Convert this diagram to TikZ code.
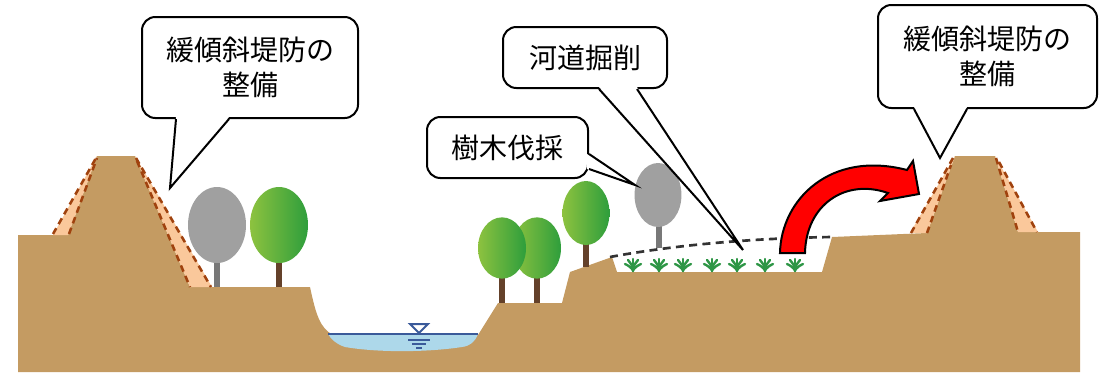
\documentclass[tikz,border=0pt]{standalone}
\usepackage{fontspec}
\newfontfamily\jpfont{Noto Sans CJK JP}
\usetikzlibrary{calc}
\definecolor{earth}{HTML}{C49B62}
\definecolor{peach}{HTML}{FAC89B}
\definecolor{levee}{HTML}{A0420E}
\definecolor{leafL}{HTML}{8DC23F}
\definecolor{leafR}{HTML}{2E9E3C}
\definecolor{deadcrown}{HTML}{A0A0A0}
\definecolor{deadtrunk}{HTML}{787878}
\definecolor{trunk}{HTML}{64412A}
\definecolor{water}{HTML}{ADD8EA}
\definecolor{waterline}{HTML}{3A5A9A}
\definecolor{grass}{HTML}{2E9646}
\begin{document}
\begin{tikzpicture}[x=0.75pt,y=-0.75pt,
  bubble/.style={draw=black, fill=white, line width=1.5pt, rounded corners=10pt,
    inner sep=0pt, align=center, font={\jpfont\fontsize{21pt}{26pt}\selectfont}},
  tailline/.style={draw=black, line width=1.5pt, line join=miter},
  slopeline/.style={draw=levee, line width=1.9pt, dash pattern=on 5pt off 3.5pt},
  greencrown/.style={left color=leafL, right color=leafR},
  graycrown/.style={fill=deadcrown},
  livetrunk/.style={draw=trunk, line width=4pt},
  deadstem/.style={draw=deadtrunk, line width=4pt},
  tuftleaf/.style={draw=grass, line width=1.8pt, line cap=round},
  cutline/.style={draw=black!80, line width=2pt, dash pattern=on 6pt off 4pt}]
\useasboundingbox (0,0) rectangle (1099,372);

% ground cross-section
\fill[earth] (18,372) -- (18,235) -- (68,235) -- (97,156) -- (135,156) -- (190,287)
  -- (310,287) .. controls (316,315) and (320,328) .. (333,335)
  -- (478,335) -- (498,303) -- (562,303) -- (570,272) -- (612,257) -- (617,272)
  -- (822,272) -- (832,237) -- (927,233) -- (955,156) -- (995,156) -- (1018,232)
  -- (1080,232) -- (1080,372) -- cycle;

% gentle-slope levee widening
\fill[peach] (53,235) -- (97,156) -- (68,235) -- cycle;
\fill[peach] (135,156) -- (212,287) -- (190,287) -- cycle;
\fill[peach] (910,233) -- (955,156) -- (927,233) -- cycle;
\fill[peach] (995,156) -- (1038,232) -- (1018,232) -- cycle;
\draw[slopeline] (53,234) -- (96,158);
\draw[slopeline] (69,234) -- (97,158);
\draw[slopeline] (136,158) -- (211,287);
\draw[slopeline] (137,161) -- (190,287);
\draw[slopeline] (911,233) -- (953,158);
\draw[slopeline] (927,233) -- (951,165);
\draw[slopeline] (996,158) -- (1018,232);
\draw[slopeline] (999,162) -- (1037,232);

% river water
\fill[water] (328,334) -- (478,334) .. controls (475,342) and (470,346) .. (462,347)
  .. controls (430,352) and (380,353) .. (345,347) .. controls (336,344) and (331,339) .. (328,334) -- cycle;
\draw[waterline, line width=1.5pt] (328,334) -- (478,334);
\draw[waterline, line width=1.5pt, fill=white] (410,324) -- (428,324) -- (419,333) -- cycle;
\draw[waterline, line width=1.5pt] (408,339.5) -- (430,339.5);
\draw[waterline, line width=1.5pt] (412,343.5) -- (426,343.5);
\draw[waterline, line width=1.5pt] (416,347.5) -- (422,347.5);

% trees on the left bank
\draw[deadstem] (217,260) -- (217,287);
\fill[graycrown] (217,225) ellipse [x radius=21.75pt, y radius=28.5pt];
\draw[livetrunk] (279,260) -- (279,287);
\shade[greencrown] (279,225) ellipse [x radius=21.75pt, y radius=28.5pt];

% trees on the right bank
\draw[livetrunk] (537,275) -- (537,303);
\shade[greencrown] (537,248) ellipse [x radius=18pt, y radius=23pt];
\draw[livetrunk] (502,275) -- (502,303);
\shade[greencrown] (502,248) ellipse [x radius=18pt, y radius=23pt];
\draw[livetrunk] (586,240) -- (586,267);
\shade[greencrown] (586,213) ellipse [x radius=17.6pt, y radius=24pt];
\draw[deadstem] (659,222) -- (659,248);
\fill[graycrown] (658,195) ellipse [x radius=17.6pt, y radius=24pt];

% grass on the excavated floodplain
\foreach \gx in {633,659,683,712,737,765,795} {
  \draw[tuftleaf] (\gx,271) -- (\gx,259);
  \draw[tuftleaf] (\gx,271) .. controls (\gx-1,265) .. (\gx-5,260);
  \draw[tuftleaf] (\gx,271) .. controls (\gx+1,265) .. (\gx+5,260);
  \draw[tuftleaf] (\gx,270) .. controls (\gx-4,266) .. (\gx-8,264);
  \draw[tuftleaf] (\gx,270) .. controls (\gx+4,266) .. (\gx+8,264);
}

% former ground line of the excavated area
\draw[cutline] (610,257) .. controls (680,244) and (760,238) .. (833,237);

% soil moved to the levee
\filldraw[fill=red, draw=black, line width=1.5pt, line join=miter]
  (780,253) .. controls (781,200) and (830,150) .. (907,170) -- (913,161) -- (919,194)
  -- (880,201) -- (888,193) .. controls (845,178) and (806,205) .. (805,253) -- cycle;

% callouts
\node[bubble, minimum width=162pt, minimum height=75.75pt] (levL) at (250,67.5)
  {緩傾斜堤防の\\整備};
\node[bubble, minimum width=164.25pt, minimum height=77.25pt] (levR) at (987.5,56.5)
  {緩傾斜堤防の\\整備};
\node[bubble, minimum width=123pt, minimum height=45.75pt] (dig) at (585,57.5)
  {河道掘削};
\node[bubble, minimum width=120.75pt, minimum height=45.75pt] (cut) at (507.5,147.5)
  {樹木伐採};

\coordinate (levLtip) at (170,188);
\coordinate (levRtip) at (940,158);
\coordinate (digtip) at (743,250);
\coordinate (cuttip) at (635,185);

\fill[white] ($(levL.south west)+(35,-2)$) -- (levLtip) -- ($(levL.south west)+(88,-2)$) -- cycle;
\draw[tailline] ($(levL.south west)+(35,0)$) -- (levLtip) -- ($(levL.south west)+(88,0)$);

\fill[white] ($(levR.south west)+(37,-2)$) -- (levRtip) -- ($(levR.south west)+(90,-2)$) -- cycle;
\draw[tailline] ($(levR.south west)+(37,0)$) -- (levRtip) -- ($(levR.south west)+(90,0)$);

\fill[white] ($(dig.south west)+(97,-2)$) -- (digtip) -- ($(dig.south west)+(135,-2)$) -- cycle;
\draw[tailline] ($(dig.south west)+(97,0)$) -- (digtip) -- ($(dig.south west)+(135,0)$);

\fill[white] ($(cut.south east)+(-2,-25)$) -- (cuttip) -- ($(cut.south east)+(-2,-10)$) -- cycle;
\draw[tailline] ($(cut.south east)+(0,-25)$) -- (cuttip) -- ($(cut.south east)+(0,-10)$);
\end{tikzpicture}
\end{document}
